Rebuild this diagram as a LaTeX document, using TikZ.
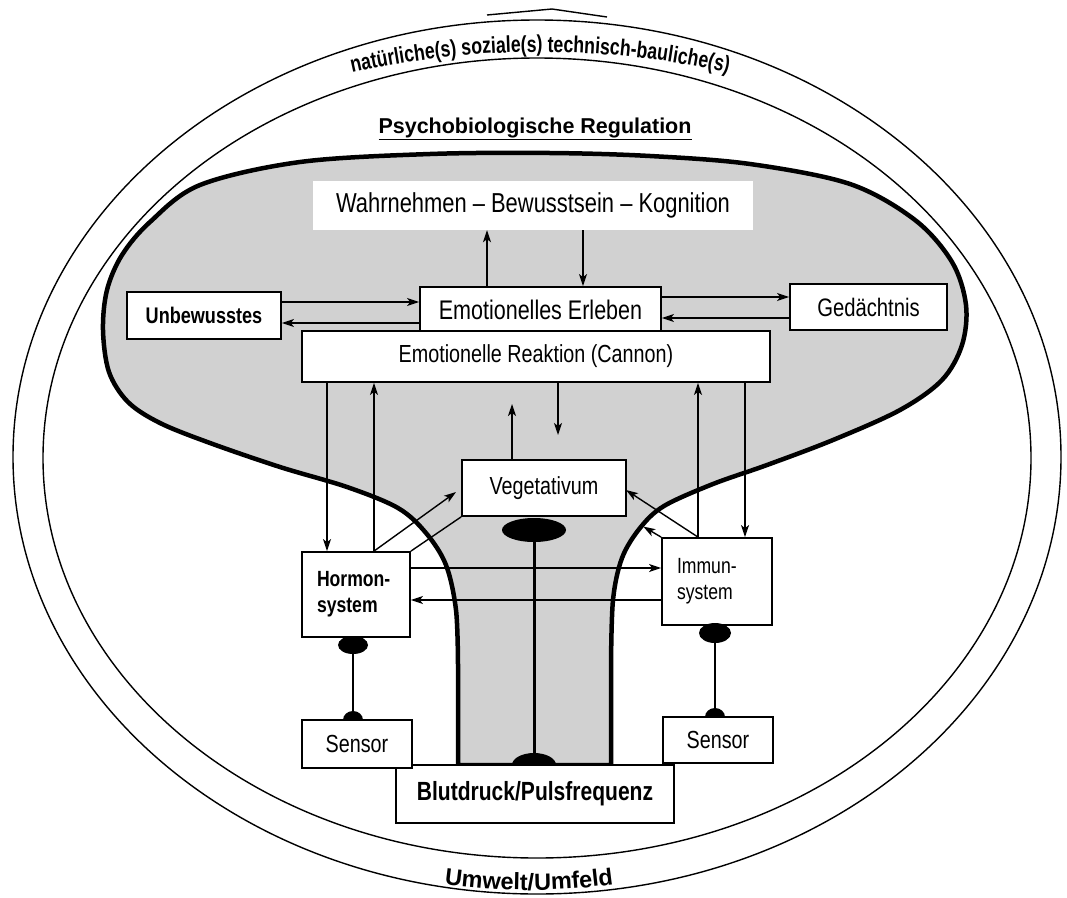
\documentclass[tikz,border=0pt]{standalone}
\usepackage{fontspec}
\setmainfont{Liberation Sans}[FakeStretch=0.8]
\newfontfamily\plainsans{Liberation Sans}
\newfontfamily\arcsans{Liberation Sans}[FakeStretch=0.77]
\usetikzlibrary{arrows.meta,decorations.text,shapes.geometric}
\tikzset{
  thinline/.style={line width=1.4pt},
  box/.style={draw, line width=1.8pt, fill=white, inner sep=0pt, align=center},
  arr/.style={line width=1.4pt, -{Stealth[length=12pt,width=8pt,inset=3pt]}},
  plain/.style={line width=1.4pt},
  dot/.style={ellipse, fill=black, inner sep=0pt},
  fnt/.style={font=\fontsize{#1}{26}\selectfont},
  bfnt/.style={font=\bfseries\fontsize{#1}{26}\selectfont},
}
\begin{document}
\begin{tikzpicture}[x=1pt,y=-1pt]
\useasboundingbox (0,0) rectangle (1067,897);
% environment ellipses
\draw[thinline] (537,457) ellipse [x radius=524, y radius=437];
\draw[thinline] (537,458) ellipse [x radius=494, y radius=400];
\coordinate (pk1) at (487,15); \coordinate (pk2) at (552,9); \coordinate (pk3) at (607,17);
\draw[line width=1.4pt] (pk1) -- (pk2) -- (pk3);
% curved texts
\path[decorate, decoration={text along path, text align=center,
  text={|\arcsans\bfseries\fontsize{23}{27}\selectfont|natürliche(s) soziale(s) technisch-bauliche(s)}}]
  (305.7,84.9) arc[start angle=254, end angle=286, radius=850];
\path[decorate, decoration={text along path, text align=center,
  text={|\plainsans\bfseries\fontsize{23.5}{27}\selectfont|Umwelt/Umfeld}}]
  (400.1,876.5) arc[start angle=102, end angle=78, radius=620];
\node[anchor=base, font=\plainsans\bfseries\fontsize{21.5}{25}\selectfont] (title) at (535,133) {\underline{Psychobiologische Regulation}};
% shaded regulation shape
\filldraw[fill=black!18, line width=4.5pt, line join=round] (458,765) -- plot[smooth, tension=0.55] coordinates {(458,665) (456,610) (446,565) (426,533) (398,508) (347,487) (280,467) (210,443) (160,423) (128,402) (109,372) (103,330) (107,290) (122,255) (150,222) (200,185) (300,162) (430,154) (550,153) (650,156) (750,164) (850,184) (915,220) (952,262) (966,305) (962,345) (942,380) (900,410) (833,440) (767,465) (713,484) (664,506) (640,528) (622,558) (613,600) (611,665)} -- (611,765) -- cycle;
% boxes
\node[fill=white, inner sep=0pt, minimum width=440pt, minimum height=49pt, fnt=27.4] (wahr) at (533,205.5) {Wahrnehmen -- Bewusstsein -- Kognition};
\node[box, minimum width=154pt, minimum height=47pt, bfnt=22.6] (unb) at (204,315.5) {Unbewusstes};
\node[box, minimum width=157pt, minimum height=46pt, fnt=25.3] (ged) at (868.5,307) {Gedächtnis};
\node[box, minimum width=241pt, minimum height=46pt, fnt=26.9] (erl) at (540.5,310) {Emotionelles Erleben};
\node[box, minimum width=468pt, minimum height=51pt, fnt=24.7] (reak) at (536,356.5) {Emotionelle Reaktion (Cannon)};
\node[box, minimum width=164pt, minimum height=56pt, fnt=24.7] (veg) at (544,488) {Vegetativum};
\node[box, minimum width=108pt, minimum height=85pt, text width=78pt, align=left, bfnt=22] (horm) at (356,594.5) {Hormon-\\system};
\node[box, minimum width=110pt, minimum height=87pt, text width=80pt, align=left, fnt=22] (imm) at (717,581.5) {Immun-\\system};
\node[box, minimum width=278pt, minimum height=58pt, bfnt=26.3] (blut) at (535,794) {Blutdruck/Pulsfrequenz};
\node[box, minimum width=110pt, minimum height=48pt, fnt=24.7] (sensL) at (357,744) {Sensor};
\node[box, minimum width=110pt, minimum height=46pt, fnt=24.7] (sensR) at (718,740) {Sensor};
% arrows upper part
\draw[arr] (487,0 |- erl.north) -- (487,0 |- wahr.south);
\draw[arr] (583,0 |- wahr.south) -- (583,0 |- erl.north);
\draw[arr] (unb.east |- 0,302) -- (erl.west |- 0,302);
\draw[arr] (erl.west |- 0,323) -- (unb.east |- 0,323);
\draw[arr] (erl.east |- 0,297) -- (ged.west |- 0,297);
\draw[arr] (ged.west |- 0,318) -- (erl.east |- 0,318);
% arrows reaction - systems
\draw[arr] (327,0 |- reak.south) -- (327,0 |- horm.north);
\draw[arr] (374,0 |- horm.north) -- (374,0 |- reak.south);
\coordinate (vegup) at (512,404);
\coordinate (reakdown) at (558,435);
\draw[arr] (512,0 |- veg.north) -- (vegup);
\draw[arr] (558,0 |- reak.south) -- (reakdown);
\draw[arr] (698,0 |- imm.north) -- (698,0 |- reak.south);
\draw[arr] (745,0 |- reak.south) -- (745,0 |- imm.north);
% hormon - immun
\draw[arr] (horm.east |- 0,568) -- (imm.west |- 0,568);
\draw[arr] (imm.west |- 0,600) -- (horm.east |- 0,600);
% diagonals to vegetativum
\coordinate (vegL) at (456,492);
\coordinate (vegR) at (626,490);
\draw[arr] (374,0 |- horm.north) -- (vegL);
\draw[plain] (horm.north east) -- (veg.south west);
\draw[arr] (698,0 |- imm.north) -- (vegR);
\draw[arr, shorten >=19pt] (imm.north west) -- (veg.south east);
% dots and lines
\node[dot, minimum width=64pt, minimum height=24pt] (vdot) at (534,530) {};
\draw[line width=3pt] (vdot.center) -- (vdot.center |- blut.north);
\fill (512,765) arc[start angle=180, end angle=360, x radius=22, y radius=12] -- cycle;
\node[dot, minimum width=30pt, minimum height=18pt] (hdot) at (353,645) {};
\node[dot, minimum width=32pt, minimum height=20pt] (idot) at (715,633) {};
\draw[plain] (hdot.center) -- (hdot.center |- sensL.north);
\draw[plain] (idot.center) -- (idot.center |- sensR.north);
\fill (343,720) arc[start angle=180, end angle=360, x radius=10, y radius=9] -- cycle;
\fill (705,717) arc[start angle=180, end angle=360, x radius=10, y radius=9] -- cycle;
\end{tikzpicture}
\end{document}
